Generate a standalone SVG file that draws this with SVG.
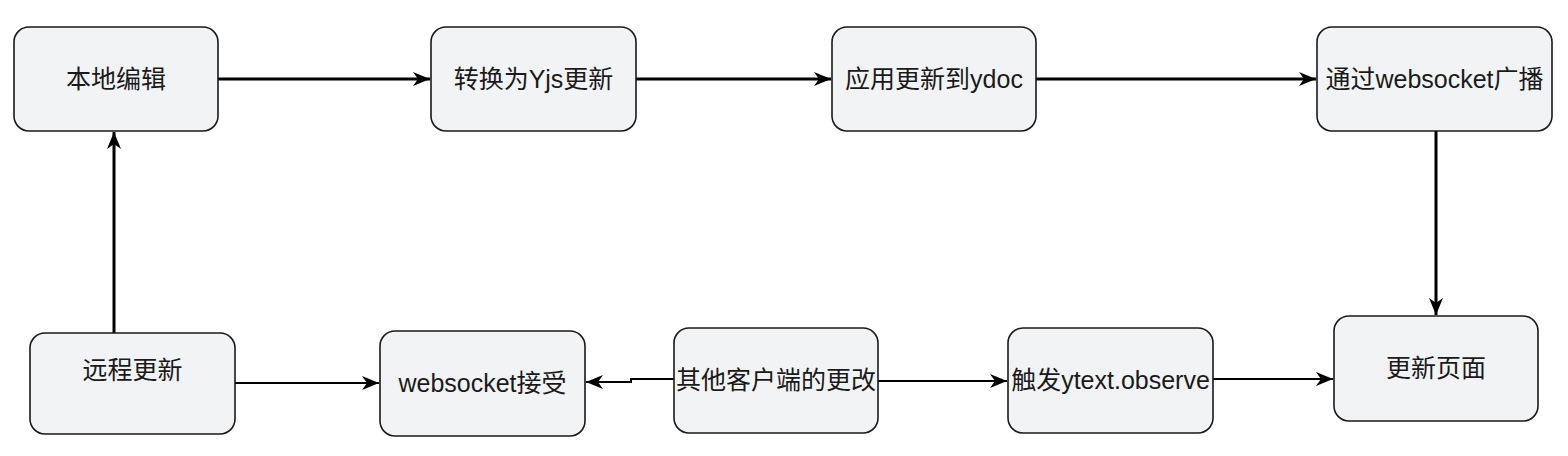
<svg xmlns="http://www.w3.org/2000/svg" width="1568" height="456" viewBox="0 0 1568 456">
<style>
.box{fill:#f2f3f5;stroke:#1a1a1a;stroke-width:1.6}
.lbl{font-family:"Liberation Sans","Noto Sans CJK SC",sans-serif;font-size:25px;fill:#1a1a1a;text-anchor:middle;dominant-baseline:central}
.edge{fill:none;stroke:#000;stroke-width:3}
.edge2{fill:none;stroke:#000;stroke-width:2}
</style>
<defs>
<marker id="arr" markerUnits="userSpaceOnUse" markerWidth="20" markerHeight="16" refX="18" refY="8" orient="auto">
<path d="M1,1 L18,8 L1,15 L6,8 Z" fill="#000"/>
</marker>
</defs>
<rect width="1568" height="456" fill="#ffffff"/>
<g id="connectors">
<path class="edge" d="M218,79 L430,79" marker-end="url(#arr)"/>
<path class="edge" d="M636,79 L831,79" marker-end="url(#arr)"/>
<path class="edge" d="M1036,79 L1316,79" marker-end="url(#arr)"/>
<path class="edge" d="M1436,131 L1436,315" marker-end="url(#arr)"/>
<path class="edge" d="M114,333 L114,132" marker-end="url(#arr)"/>
<path class="edge2" d="M235,383 L379,383" marker-end="url(#arr)"/>
<path class="edge2" d="M674,379 L631,379 L631,382 L586,382" marker-end="url(#arr)"/>
<path class="edge2" d="M878,381 L1007,381" marker-end="url(#arr)"/>
<path class="edge2" d="M1213,379 L1333,379" marker-end="url(#arr)"/>
</g>
<g id="n1"><rect class="box" x="14" y="27" width="204" height="104" rx="15"/><text class="lbl" x="116" y="79">本地编辑</text></g>
<g id="n2"><rect class="box" x="431" y="27" width="205" height="104" rx="15"/><text class="lbl" x="533.5" y="79">转换为Yjs更新</text></g>
<g id="n3"><rect class="box" x="832" y="27" width="204" height="104" rx="15"/><text class="lbl" x="934" y="79">应用更新到ydoc</text></g>
<g id="n4"><rect class="box" x="1317" y="27" width="235" height="104" rx="15"/><text class="lbl" x="1434.5" y="79">通过websocket广播</text></g>
<g id="n5"><rect class="box" x="1334" y="316" width="204" height="105" rx="15"/><text class="lbl" x="1436" y="368">更新页面</text></g>
<g id="n6"><rect class="box" x="1008" y="328" width="205" height="105" rx="15"/><text class="lbl" x="1110.5" y="380">触发ytext.observe</text></g>
<g id="n7"><rect class="box" x="674" y="328" width="204" height="105" rx="15"/><text class="lbl" x="776" y="380">其他客户端的更改</text></g>
<g id="n8"><rect class="box" x="380" y="331" width="205" height="105" rx="15"/><text class="lbl" x="482.5" y="383">websocket接受</text></g>
<g id="n9"><rect class="box" x="30" y="333" width="205" height="101" rx="15"/><text class="lbl" x="132.5" y="370">远程更新</text></g>
</svg>
